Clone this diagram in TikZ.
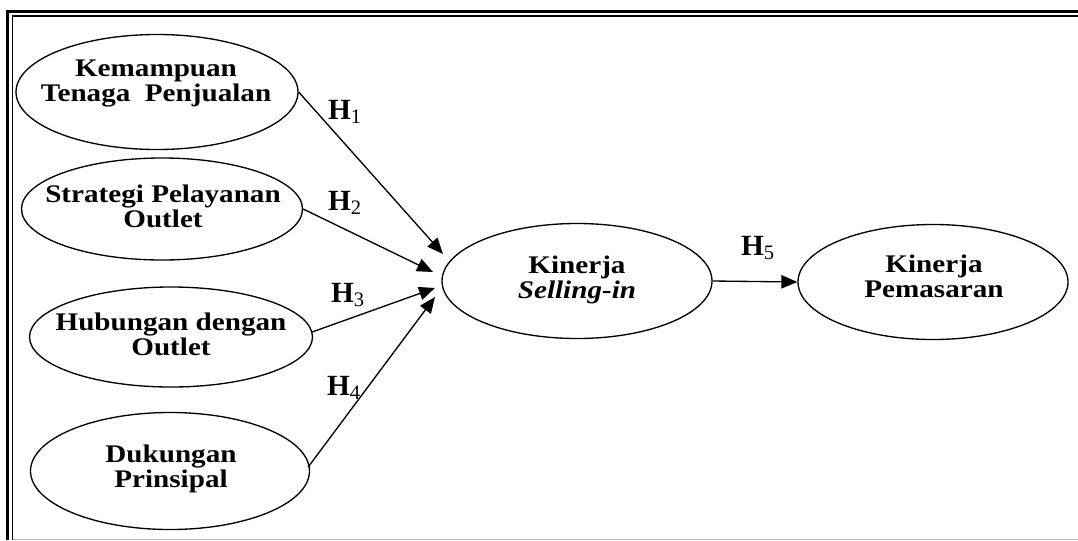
\documentclass[tikz,border=0pt]{standalone}
\usepackage{fontspec}
\setmainfont{Liberation Serif}
\usetikzlibrary{shapes.geometric,arrows.meta}

% widened two-line caption
\newcommand{\capt}[1]{\scalebox{1.15}[1]{\begin{tabular}{@{}c@{}}#1\end{tabular}}}
\newcommand{\hlab}[1]{H\textsubscript{\normalfont #1}}

\tikzset{
  var/.style={draw, ellipse, line width=1pt, inner sep=0pt},
  txt/.style={font=\fontsize{19}{18.5}\selectfont\bfseries, inner sep=0pt},
  hyp/.style={font=\fontsize{22}{24}\selectfont\bfseries, inner sep=0pt},
  link/.style={line width=1pt, -{Triangle[length=12pt,width=10pt]}},
}

\begin{document}
\begin{tikzpicture}[x=0.75pt, y=-0.75pt]
  \useasboundingbox (0,0) rectangle (1078,540);

  % double frame (top and left), thin grey base line
  \draw[line width=2pt, line join=miter] (7.6,540) -- (7.6,11.3) -- (1078,11.3);
  \draw[line width=1.1pt, line join=miter] (12.7,540) -- (12.7,16.2) -- (1078,16.2);
  \draw[line width=0.75pt, gray!60] (13,539) -- (1078,539);

  % latent variables
  \node[var, minimum width=282*0.75pt, minimum height=115*0.75pt] (k1) at (157,92) {};
  \node[var, minimum width=281*0.75pt, minimum height=102*0.75pt] (k2) at (162,209) {};
  \node[var, minimum width=283*0.75pt, minimum height=100*0.75pt] (k3) at (171,337) {};
  \node[var, minimum width=279*0.75pt, minimum height=117*0.75pt] (k4) at (170,471) {};
  \node[var, minimum width=270*0.75pt, minimum height=115*0.75pt] (ks) at (577,281) {};
  \node[var, minimum width=270*0.75pt, minimum height=115*0.75pt] (kp) at (933,282) {};

  % captions
  \node[txt] (l1) at (156,84) {\capt{Kemampuan\\Tenaga~ Penjualan}};
  \node[txt] (l2) at (163,210) {\capt{Strategi Pelayanan\\Outlet}};
  \node[txt] (l3) at (171,338) {\capt{Hubungan dengan\\Outlet}};
  \node[txt] (l4) at (171,470) {\capt{Dukungan\\Prinsipal}};
  \node[txt] (ls) at (577,281) {\capt{Kinerja\\\textit{Selling-in}}};
  \node[txt] (lp) at (934,280) {\capt{Kinerja\\Pemasaran}};

  % arrow tips short of the mediator
  \coordinate (t1) at (443,254);
  \coordinate (t2) at (433,272);
  \coordinate (t3) at (435,288);
  \coordinate (t4) at (435,297);

  % paths
  \draw[link] (k1.east) -- (t1);
  \draw[link] (k2.east) -- (t2);
  \draw[link] (k3.east) ++(-1,-5) coordinate (s3) (s3) -- (t3);
  \draw[link] (k4.east) ++(-2,-4) coordinate (s4) (s4) -- (t4);
  \draw[link] (ks.east) -- (kp.west);

  % hypothesis labels
  \node[hyp] (h1) at (345,112) {\hlab{1}};
  \node[hyp] (h2) at (345,203) {\hlab{2}};
  \node[hyp] (h3) at (348,295) {\hlab{3}};
  \node[hyp] (h4) at (344,388) {\hlab{4}};
  \node[hyp] (h5) at (758,248) {\hlab{5}};
\end{tikzpicture}
\end{document}
